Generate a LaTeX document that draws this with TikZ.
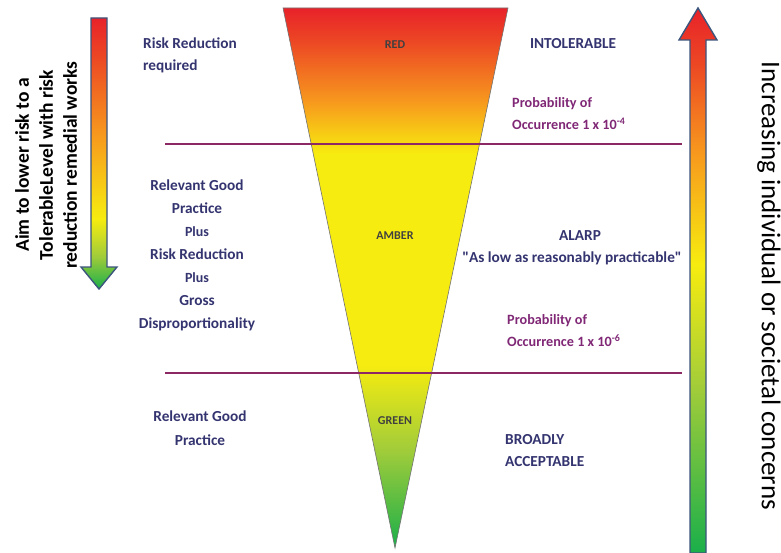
\documentclass[tikz,border=0pt]{standalone}
\usepackage{fontspec}
\setmainfont{Carlito}
\definecolor{navy}{RGB}{52,52,112}
\definecolor{prob}{RGB}{128,40,118}
\definecolor{sep}{RGB}{140,40,100}
\definecolor{arrowedge}{RGB}{60,85,125}
\definecolor{cred}{RGB}{232,34,42}
\definecolor{cred2}{RGB}{236,70,36}
\definecolor{corange}{RGB}{247,150,30}
\definecolor{cyellow}{RGB}{247,236,15}
\definecolor{clime}{RGB}{160,204,58}
\definecolor{cgreen}{RGB}{26,175,74}
\pgfdeclareverticalshading{trishade}{100bp}{color(0bp)=(cgreen); color(25bp)=(cgreen); color(34bp)=(clime); color(42bp)=(cyellow); color(61.5bp)=(cyellow); color(66.5bp)=(corange); color(72bp)=(cred2); color(75bp)=(cred); color(100bp)=(cred)}
\pgfdeclareverticalshading{leftshade}{100bp}{color(0bp)=(cgreen); color(25bp)=(cgreen); color(31bp)=(clime); color(38bp)=(cyellow); color(54bp)=(corange); color(68bp)=(cred2); color(75bp)=(cred); color(100bp)=(cred)}
\pgfdeclareverticalshading{rightshade}{100bp}{color(0bp)=(cgreen); color(25bp)=(cgreen); color(40bp)=(clime); color(51.5bp)=(cyellow); color(62bp)=(corange); color(70bp)=(cred2); color(75bp)=(cred); color(100bp)=(cred)}
\tikzset{
  lbl/.style={text=navy, font=\fontsize{15.3}{22}\selectfont\bfseries, inner sep=0pt},
  problbl/.style={text=prob, font=\fontsize{14.2}{22}\selectfont\bfseries, inner sep=0pt, align=left, anchor=west},
  zonelbl/.style={text=black!75, font=\fontsize{12}{12}\selectfont\bfseries, inner sep=0pt},
  sepline/.style={draw=sep, line width=2.6pt},
  sidetext/.style={text=black, inner sep=0pt, align=center},
  arrowbody/.style={draw=arrowedge, line width=1.4pt, line join=miter}
}
\begin{document}
\begin{tikzpicture}[x=1pt,y=-1pt]
\useasboundingbox[fill=white] (0,0) rectangle (781,553);
% triangle
\path[shading=trishade, draw=black!55, line width=0.6pt] (283,8) -- (508,8) -- (395,548) -- cycle;
% separator lines
\coordinate (l1a) at (165,144); \coordinate (l1b) at (682,144);
\coordinate (l2a) at (165,373); \coordinate (l2b) at (682,373);
\draw[sepline] (l1a) -- (l1b);
\draw[sepline] (l2a) -- (l2b);
% left arrow
\path[arrowbody, shading=leftshade] (91,18) -- (107,18) -- (107,267) -- (117,267) -- (99,289) -- (81,267) -- (91,267) -- cycle;
% right arrow
\path[arrowbody, shading=rightshade] (690,553) -- (690,40) -- (679,40) -- (698,8) -- (717,40) -- (706,40) -- (706,553) -- cycle;
% zone labels
\node[zonelbl] (red) at (395,45) {RED};
\node[zonelbl] (amber) at (395,236) {AMBER};
\node[zonelbl] (green) at (395,421) {GREEN};
% left texts
\node[lbl, anchor=west, align=left] (rr) at (143,55) {Risk Reduction\\required};
\node[lbl, align=center, font=\fontsize{15.3}{23}\selectfont\bfseries] (rgp) at (197,255) {Relevant Good\\Practice\\{\fontsize{14}{23}\selectfont Plus}\\Risk Reduction\\{\fontsize{14}{23}\selectfont Plus}\\Gross\\Disproportionality};
\node[lbl, align=center, font=\fontsize{15.3}{24}\selectfont\bfseries] (rgp2) at (200,428) {Relevant Good\\Practice};
% right texts
\node[lbl] (intol) at (573,44) {INTOLERABLE};
\node[problbl] (p4) at (512,114) {Probability of\\Occurrence 1 x 10\textsuperscript{-4}};
\node[lbl] (alarp) at (580,236) {ALARP};
\node[lbl] (alarpq) at (572,258) {\textquotedbl As low as reasonably practicable\textquotedbl};
\node[problbl] (p6) at (507,331) {Probability of\\Occurrence 1 x 10\textsuperscript{-6}};
\node[lbl, anchor=west, align=left] (broad) at (505,451) {BROADLY\\ACCEPTABLE};
% side texts
\node[sidetext, rotate=90, font=\fontsize{19.5}{24}\selectfont\bfseries] (aim) at (46,165) {Aim to lower risk to a\\TolerableLevel with risk\\reduction remedial works};
\node[sidetext, rotate=-90, font=\fontsize{27}{24}\selectfont] (incr) at (769,286) {Increasing individual or societal concerns};
\end{tikzpicture}
\end{document}
